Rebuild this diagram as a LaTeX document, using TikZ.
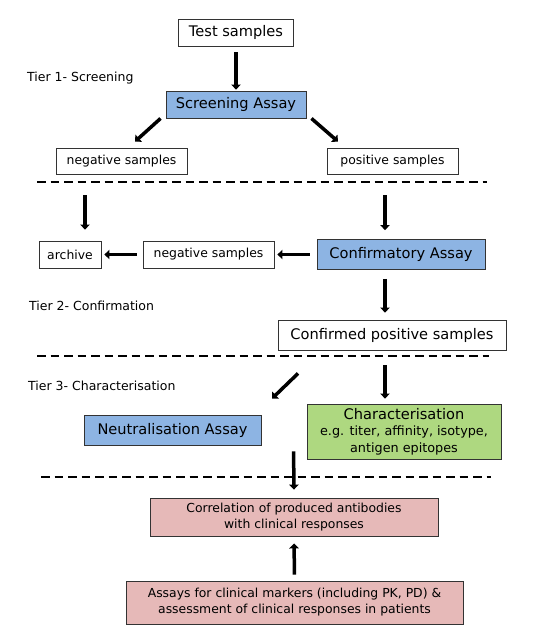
\documentclass[tikz,border=0pt]{standalone}
\usepackage{fontspec}
\setmainfont{DejaVu Sans}
\usepackage{xcolor}
\usetikzlibrary{arrows.meta, positioning}

\definecolor{assayblue}{RGB}{141,180,227}
\definecolor{chargreen}{RGB}{174,216,128}
\definecolor{clinpink}{RGB}{230,185,184}

\tikzset{
    box/.style={draw=black!80, line width=0.9pt, fill=white, inner sep=0pt, align=center,
        font=\fontsize{12.4}{16}\selectfont},
    bigbox/.style={box, font=\fontsize{14.6}{17}\selectfont},
    arr/.style={line width=3.5pt, -{Triangle[length=5pt,width=9.5pt]}},
    tier/.style={anchor=west, inner sep=0pt, font=\fontsize{12.5}{14}\selectfont},
    tierline/.style={line width=2.5pt, dash pattern=on 8.5pt off 5pt}
}

\begin{document}
\begin{tikzpicture}[x=1pt, y=-1pt]
    \useasboundingbox (0,0) rectangle (549,643);

    % Tier 1: screening
    \node[bigbox, minimum width=115pt, minimum height=27pt] (test) at (236,32.5) {Test samples};
    \node[bigbox, fill=assayblue, minimum width=140pt, minimum height=27pt] (scr) at (236,104.5) {Screening Assay};
    \node[box, minimum width=131pt, minimum height=26pt] (neg1) at (121.5,161) {negative samples};
    \node[box, minimum width=131pt, minimum height=26pt] (pos1) at (392.5,161) {positive samples};
    \node[tier] (t1) at (27,78) {Tier 1- Screening};

    \draw[arr, shorten <=6pt, shorten >=1pt] (test) -- (scr);
    \draw[arr] ([xshift=-5pt]scr.south west) -- ([xshift=13.5pt,yshift=6pt]neg1.north);
    \draw[arr] ([xshift=5pt]scr.south east) -- ([xshift=-54.5pt,yshift=6pt]pos1.north);

    \draw[tierline] (37,182) -- (487,182);

    % Tier 2: confirmation
    \node[box, minimum width=62pt, minimum height=27pt] (arch) at (70,254.5) {archive};
    \node[box, minimum width=131pt, minimum height=27pt] (neg2) at (208.5,254.5) {negative samples};
    \node[bigbox, fill=assayblue, minimum width=168pt, minimum height=30pt] (conf) at (401,254.5) {Confirmatory Assay};
    \node[bigbox, minimum width=228pt, minimum height=30pt] (cpos) at (392,335) {Confirmed positive samples};
    \node[tier] (t2) at (29,306) {Tier 2- Confirmation};

    \draw[arr] ([xshift=-36.5pt,yshift=-21pt]neg1.south) -- ([xshift=15pt,yshift=11pt]arch.north);
    \draw[arr] ([xshift=-7.5pt,yshift=-21pt]pos1.south) -- ([xshift=-16pt,yshift=9pt]conf.north);
    \draw[arr, shorten <=7pt, shorten >=3pt] (conf.west) -- (neg2.east);
    \draw[arr, shorten <=6pt, shorten >=3pt] (neg2.west) -- (arch.east);
    \draw[arr] ([xshift=-16pt,yshift=-9pt]conf.south) -- ([xshift=-7pt,yshift=7pt]cpos.north);

    \draw[tierline] (37,356) -- (489,356);

    % Tier 3: characterisation
    \node[bigbox, fill=assayblue, minimum width=177pt, minimum height=30pt] (neut) at (172.5,430) {Neutralisation Assay};
    \node[box, fill=chargreen, minimum width=194pt, minimum height=55pt, font=\fontsize{12.8}{16.5}\selectfont] (char) at (404,431.5)
        {{\fontsize{14.6}{17}\selectfont Characterisation}\\e.g. titer, affinity, isotype,\\antigen epitopes};
    \node[tier] (t3) at (28,386) {Tier 3- Characterisation};

    \draw[arr] ([xshift=-94pt,yshift=-23pt]cpos.south) -- ([xshift=99.5pt,yshift=16pt]neut.north);
    \draw[arr] ([xshift=-7pt,yshift=-15pt]cpos.south) -- ([xshift=-19pt,yshift=5pt]char.north);

    \draw[tierline] (41,477) -- (491,477);

    % clinical correlation
    \node[box, fill=clinpink, minimum width=288pt, minimum height=38pt] (corr) at (294,517)
        {Correlation of produced antibodies\\with clinical responses};
    \node[box, fill=clinpink, minimum width=337pt, minimum height=43pt] (clin) at (294.5,602.5)
        {Assays for clinical markers (including PK, PD) \&\\assessment of clinical responses in patients};

    \draw[arr] ([xshift=-13pt,yshift=8pt]char.south west) -- ([yshift=8pt]corr.north);
    \draw[arr, shorten <=6pt, shorten >=7pt] (clin.north) -- (corr.south);
\end{tikzpicture}
\end{document}
